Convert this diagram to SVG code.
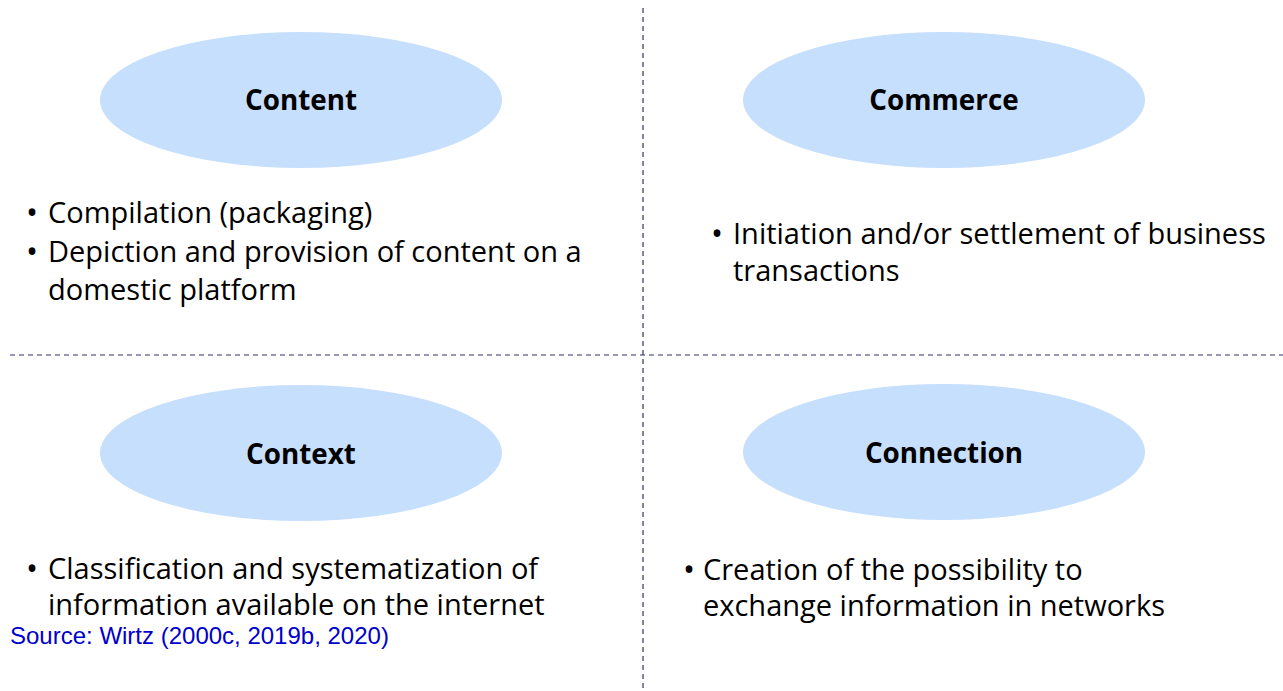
<svg xmlns="http://www.w3.org/2000/svg" width="1283" height="691" viewBox="0 0 1283 691">
<style>
.ell{fill:#c6dffc;}
.title{font-family:"Open Sans","Noto Sans",sans-serif;font-weight:bold;font-size:27.8px;fill:#000;text-anchor:middle;}
.body{font-family:"Open Sans","Noto Sans",sans-serif;font-size:29px;fill:#000;}
.bul{font-family:"Open Sans","Noto Sans",sans-serif;font-size:32px;fill:#000;text-anchor:middle;}
.src{font-family:"Liberation Sans",Arial,sans-serif;font-size:24px;fill:#0000cc;}
.div{stroke:#33336b;stroke-width:1.2;stroke-dasharray:5 4;fill:none;}
</style>
<rect width="1283" height="691" fill="#fff"/>
<g id="connectors">
<line class="div" x1="643" y1="8" x2="643" y2="691"/>
<line class="div" x1="10" y1="355" x2="1283" y2="355"/>
</g>
<g id="content">
<ellipse class="ell" cx="301" cy="100" rx="201" ry="68"/>
<text class="title" x="301" y="110">Content</text>
<text class="bul" x="32" y="224">•</text>
<text class="body" x="48" y="223">Compilation (packaging)</text>
<text class="bul" x="32" y="263">•</text>
<text class="body" x="48" y="262">Depiction and provision of content on a</text>
<text class="body" x="48" y="300">domestic platform</text>
</g>
<g id="commerce">
<ellipse class="ell" cx="944" cy="100" rx="201" ry="68"/>
<text class="title" x="944" y="110">Commerce</text>
<text class="bul" x="717" y="245">•</text>
<text class="body" x="733" y="244">Initiation and/or settlement of business</text>
<text class="body" x="733" y="281">transactions</text>
</g>
<g id="context">
<ellipse class="ell" cx="301" cy="453" rx="201" ry="68"/>
<text class="title" x="301" y="464">Context</text>
<text class="bul" x="32" y="580">•</text>
<text class="body" x="48" y="579">Classification and systematization of</text>
<text class="body" x="48" y="615">information available on the internet</text>
</g>
<g id="connection">
<ellipse class="ell" cx="944" cy="452" rx="201" ry="68"/>
<text class="title" x="944" y="463">Connection</text>
<text class="bul" x="689" y="581">•</text>
<text class="body" x="703" y="580">Creation of the possibility to</text>
<text class="body" x="703" y="616">exchange information in networks</text>
</g>
<text class="src" x="10" y="644">Source: Wirtz (2000c, 2019b, 2020)</text>
</svg>
